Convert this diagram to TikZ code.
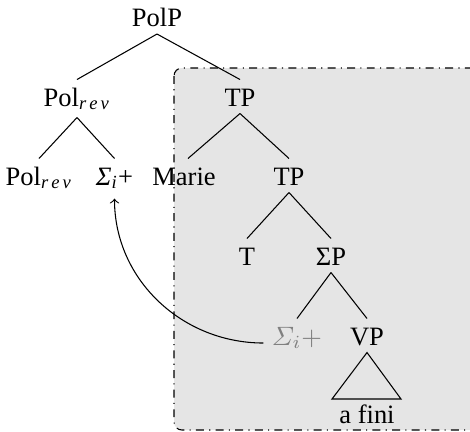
\documentclass[tikz,border=0pt]{standalone}
\usepackage{amsmath}
\usepackage{fontspec}
\setmainfont{Liberation Serif}
\begin{document}
\begin{tikzpicture}[x=0.3774pt,y=-0.3774pt,
  lbl/.style={inner sep=0pt, anchor=base, text height=9.8pt, text depth=2.64pt},
  edge/.style={line width=0.4pt},
  region/.style={dash dot, fill=gray!20, rounded corners=3pt, line width=0.4pt}]
\clip (0,0) rectangle (470,431);
\draw[region] (174,68) rectangle (500,430);
\node[lbl] (polp) at (157,26.5) {PolP};
\node[lbl, text depth=4.15pt] (pol1) at (77,106) {Pol$_{\textit{r\,e\,v}}$};
\node[lbl] (tp1) at (240,106) {TP};
\node[lbl, text depth=4.15pt] (pol2) at (39,185) {Pol$_{\textit{r\,e\,v}}$};
\node[lbl] (sig) at (114.5,185) {\textit{Σ}$_{\textit{i}}$+};
\node[lbl] (marie) at (184,185) {Marie};
\node[lbl] (tp2) at (289,185) {TP};
\node[lbl] (t) at (247,265) {T};
\node[lbl] (sigp) at (331,265) {ΣP};
\node[lbl, text=gray] (gsig) at (297,345) {$\mathnormal{\Sigma}_i+$};
\node[lbl] (vp) at (367,345) {VP};
\node[lbl] (afini) at (367,423) {a fini};
\coordinate (tl) at (332,399);
\coordinate (tr) at (401,399);
\draw[edge] (polp.south) -- (pol1.north);
\draw[edge] (polp.south) -- (tp1.north);
\draw[edge] (pol1.south) -- (pol2.north);
\draw[edge] (pol1.south) -- (sig.north);
\draw[edge] (tp1.south) -- ([xshift=1.5pt]marie.north);
\draw[edge] (tp1.south) -- (tp2.north);
\draw[edge] (tp2.south) -- (t.north);
\draw[edge] (tp2.south) -- (sigp.north);
\draw[edge] (sigp.south) -- (gsig.north);
\draw[edge] (sigp.south) -- (vp.north);
\draw[edge] (vp.south) -- (tl) -- (tr) -- cycle;
\draw[edge, ->] ([xshift=-3pt,yshift=0.75pt]gsig.base west) to[out=180, in=-90] ([yshift=-2.3pt]sig.south);
\end{tikzpicture}
\end{document}
